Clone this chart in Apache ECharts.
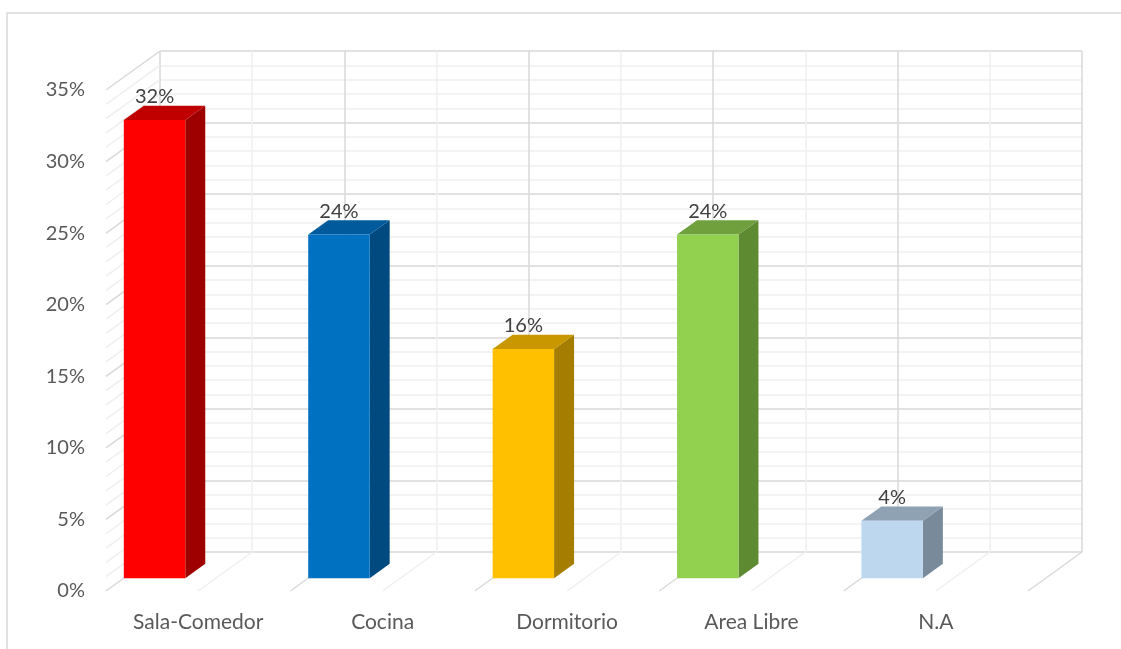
<!DOCTYPE html>
<html>
<head>
<meta charset="utf-8">
<title>Ambientes</title>
<script src="https://cdn.jsdelivr.net/npm/echarts@6/dist/echarts.min.js"></script>
<style>
  html, body { margin: 0; padding: 0; background: #ffffff; }
  #chart { width: 1121px; height: 649px; }
</style>
</head>
<body>
<div id="chart"></div>
<script>
// Categories and their shares
const categories = ['Sala-Comedor', 'Cocina', 'Dormitorio', 'Area Libre', 'N.A'];
const shares = [0.32, 0.24, 0.16, 0.24, 0.04];

// Value axis ticks
const yMin = 0;
const yMax = 0.35;
const yStep = 0.05;

// Face colours for each column: front, top, side
const frontColors = ['#FF0000', '#0070C0', '#FFC000', '#92D050', '#BDD7EE'];
const topColors   = ['#C00000', '#005A9C', '#C99700', '#6FA03D', '#8EA2B4'];
const sideColors  = ['#9E0000', '#004A80', '#A57D00', '#5E8A32', '#798A9A'];

// Oblique depth of the plot box (front plane -> back wall), in pixels
const DEPTH = [54, -39];
// Column placement along the depth and its thickness, as fractions of DEPTH
const BAR_FRONT = 0.33;
const BAR_DEPTH = 0.37;

const FONT = 'Lato, "Noto Sans", sans-serif';
const MAJOR = '#D9D9D9';
const MINOR = '#EFEFEF';

const pct = v => Math.round(v * 100) + '%';

// Lines on the left wall (one per minor step) and on the floor (one per half category)
const wallLevels = [];
const minorPerMajor = 5;
const minorStep = yStep / minorPerMajor;
for (let k = 0; k * minorStep <= yMax + 1e-9; k++) {
  wallLevels.push([0, +(k * minorStep).toFixed(4), k % minorPerMajor === 0 ? 1 : 0]);
}
const floorLevels = [];
for (let k = 1; k <= categories.length * 2; k++) {
  floorLevels.push([k / 2, 0, k % 2 === 0 ? 1 : 0]);
}
const depthLines = wallLevels.concat(floorLevels);

const chart = echarts.init(document.getElementById('chart'), null, { renderer: 'canvas' });

const frontGrid = { left: 106, top: 90, width: 922, height: 501 };
const backGrid = {
  left: frontGrid.left + DEPTH[0],
  top: frontGrid.top + DEPTH[1],
  width: frontGrid.width,
  height: frontGrid.height
};

chart.setOption({
  backgroundColor: '#ffffff',
  animation: false,
  graphic: [{
    type: 'rect',
    z: -10,
    shape: { x: 7, y: 13, width: 1300, height: 800 },
    style: { fill: 'none', stroke: '#D9D9D9', lineWidth: 1.5 }
  }],
  grid: [
    Object.assign({ containLabel: false }, frontGrid),
    Object.assign({ containLabel: false }, backGrid)
  ],
  xAxis: [{
    type: 'category',
    gridIndex: 0,
    data: categories,
    boundaryGap: true,
    axisLine: { show: false },
    axisTick: { show: false },
    splitLine: { show: false },
    axisLabel: { margin: 21, color: '#595959', fontFamily: FONT, fontSize: 21, interval: 0 }
  }, {
    type: 'value',
    gridIndex: 1,
    min: 0,
    max: categories.length,
    interval: 1,
    axisLine: { show: false },
    axisTick: { show: false },
    axisLabel: { show: false },
    splitLine: { show: true, lineStyle: { color: MAJOR, width: 1.5 } },
    minorTick: { show: false, splitNumber: 2 },
    minorSplitLine: { show: true, lineStyle: { color: MINOR, width: 1.5 } }
  }],
  yAxis: [{
    type: 'value',
    gridIndex: 0,
    min: yMin,
    max: yMax,
    interval: yStep,
    axisLine: { show: false },
    axisTick: { show: false },
    splitLine: { show: false },
    axisLabel: {
      margin: 21,
      color: '#595959',
      fontFamily: FONT,
      fontSize: 20,
      padding: [8, 0, 0, 0],
      formatter: pct
    }
  }, {
    type: 'value',
    gridIndex: 1,
    min: yMin,
    max: yMax,
    interval: yStep,
    axisLine: { show: false },
    axisTick: { show: false },
    axisLabel: { show: false },
    splitLine: { show: true, lineStyle: { color: MAJOR, width: 1.5 } },
    minorTick: { show: false, splitNumber: minorPerMajor },
    minorSplitLine: { show: true, lineStyle: { color: MINOR, width: 1.5 } }
  }],
  series: [{
    // receding lines of the left wall and the floor
    type: 'custom',
    xAxisIndex: 1,
    yAxisIndex: 1,
    silent: true,
    z: 1,
    data: depthLines,
    renderItem: function (params, api) {
      const p = api.coord([api.value(0), api.value(1)]);
      const major = api.value(2) === 1;
      return {
        type: 'line',
        shape: { x1: p[0], y1: p[1], x2: p[0] - DEPTH[0], y2: p[1] - DEPTH[1] },
        style: { stroke: major ? MAJOR : MINOR, lineWidth: 1.5 }
      };
    }
  }, {
    // 3D columns
    type: 'custom',
    xAxisIndex: 0,
    yAxisIndex: 0,
    silent: true,
    z: 5,
    data: shares.map((v, i) => [i, v]),
    renderItem: function (params, api) {
      const i = api.value(0);
      const v = api.value(1);
      const base = api.coord([i, 0]);
      const band = api.size([1, 0])[0];
      const w = band / 3;
      const x = base[0] - band / 2 + BAR_FRONT * DEPTH[0];
      const y0 = base[1] + BAR_FRONT * DEPTH[1];
      const h = api.size([0, v])[1];
      const top = y0 - h;
      const dx = BAR_DEPTH * DEPTH[0];
      const dy = BAR_DEPTH * DEPTH[1];
      return {
        type: 'group',
        children: [{
          type: 'polygon',
          shape: { points: [[x + w, top], [x + w + dx, top + dy], [x + w + dx, y0 + dy], [x + w, y0]] },
          style: { fill: sideColors[i] }
        }, {
          type: 'polygon',
          shape: { points: [[x, top], [x + dx, top + dy], [x + w + dx, top + dy], [x + w, top]] },
          style: { fill: topColors[i] }
        }, {
          type: 'rect',
          shape: { x: x, y: top, width: w, height: h },
          style: { fill: frontColors[i] }
        }, {
          type: 'text',
          style: {
            x: x + w / 2,
            y: top + dy - 9,
            text: pct(v),
            align: 'center',
            verticalAlign: 'middle',
            fontFamily: FONT,
            fontSize: 20,
            fill: '#404040'
          }
        }]
      };
    }
  }]
});
</script>
</body>
</html>
